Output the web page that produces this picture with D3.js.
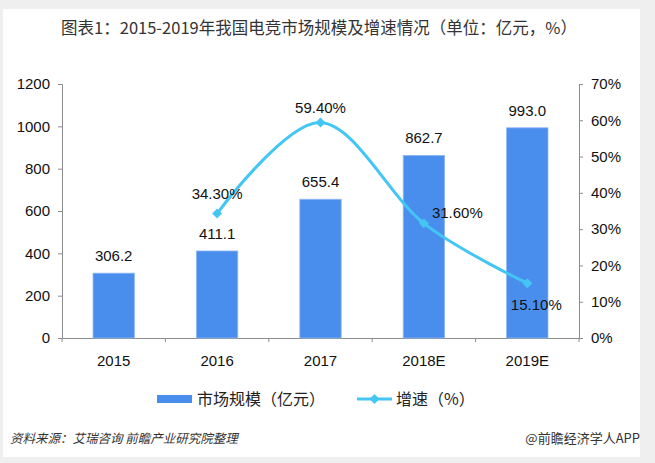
<!DOCTYPE html>
<html>
<head>
<meta charset="utf-8">
<script src="https://cdn.jsdelivr.net/npm/d3@7"></script>
<style>
  body { margin: 0; background: #efefef; }
  svg { display: block; }
</style>
</head>
<body>
<div id="chart"></div>
<script>
// data
const years = ["2015", "2016", "2017", "2018E", "2019E"];
const marketSize = [306.2, 411.1, 655.4, 862.7, 993.0];
const growthYears = ["2016", "2017", "2018E", "2019E"];
const growthRate = [34.3, 59.4, 31.6, 15.1];
const leftTicks = [0, 200, 400, 600, 800, 1000, 1200];
const rightTicks = [0, 10, 20, 30, 40, 50, 60, 70];

const width = 655, height = 463;
const cjk = "'Noto Sans CJK SC', sans-serif";
const num = "'Liberation Sans', Arial, sans-serif";
const barColor = "#4a8eed";
const lineColor = "#44c6f5";

const svg = d3.select("#chart").append("svg")
    .attr("width", width).attr("height", height);

// white panel
svg.append("rect")
    .attr("x", 3).attr("y", 9).attr("width", 637).attr("height", 448)
    .attr("fill", "#fff");

svg.append("text")
    .attr("x", 319).attr("y", 34)
    .attr("text-anchor", "middle")
    .style("font-family", cjk).style("font-size", "16.5px").style("fill", "#333")
    .text("图表1：2015-2019年我国电竞市场规模及增速情况（单位：亿元，%）");

// scales
const x = d3.scaleBand().domain(years).range([62, 579]).padding(0);
const yL = d3.scaleLinear().domain([0, 1200]).range([338, 84]);
const yR = d3.scaleLinear().domain([0, 70]).range([338, 84]);
const bw = x.bandwidth() * 0.4;
const cx = d => x(d) + x.bandwidth() / 2;

// axes
const axisStyle = g => {
    g.select(".domain").attr("stroke", "#8c8c8c");
    g.selectAll(".tick line").attr("stroke", "#8c8c8c");
    g.selectAll(".tick text").style("font-family", num).style("font-size", "15px").attr("fill", "#111");
};

svg.append("g")
    .attr("transform", "translate(62,0)")
    .call(d3.axisLeft(yL).tickValues(leftTicks).tickFormat(d3.format("d")).tickSize(4).tickSizeOuter(4).tickPadding(8))
    .call(axisStyle);

svg.append("g")
    .attr("transform", "translate(579,0)")
    .call(d3.axisRight(yR).tickValues(rightTicks).tickFormat(d => d + "%").tickSize(4).tickSizeOuter(4).tickPadding(8))
    .call(axisStyle);

const xAxis = svg.append("g")
    .attr("transform", "translate(0,338)")
    .call(d3.axisBottom(x).tickSize(0).tickPadding(17))
    .call(axisStyle);
// boundary ticks between categories
xAxis.selectAll(".sep")
    .data(years.concat(["end"]))
    .join("line")
    .attr("class", "sep")
    .attr("x1", (d, i) => 62 + i * x.bandwidth())
    .attr("x2", (d, i) => 62 + i * x.bandwidth())
    .attr("y1", 0).attr("y2", 4)
    .attr("stroke", "#8c8c8c");

// bars
svg.append("g").selectAll("rect")
    .data(years)
    .join("rect")
    .attr("x", d => cx(d) - bw / 2)
    .attr("y", (d, i) => yL(marketSize[i]))
    .attr("width", bw)
    .attr("height", (d, i) => yL(0) - yL(marketSize[i]))
    .attr("fill", barColor)
    .attr("stroke", "#8db6f3").attr("stroke-width", 0.8);

svg.append("g").selectAll("text")
    .data(years)
    .join("text")
    .attr("x", d => cx(d))
    .attr("y", (d, i) => yL(marketSize[i]) - 12)
    .attr("text-anchor", "middle")
    .style("font-family", num).style("font-size", "15px").style("fill", "#111")
    .text((d, i) => marketSize[i].toFixed(1));

// growth line
const pts = growthYears.map((d, i) => [cx(d), yR(growthRate[i])]);
svg.append("path")
    .attr("d", d3.line().curve(d3.curveCatmullRom.alpha(0))(pts))
    .attr("fill", "none")
    .attr("stroke", lineColor).attr("stroke-width", 3);

svg.append("g").selectAll("path")
    .data(pts)
    .join("path")
    .attr("transform", d => `translate(${d[0]},${d[1]}) rotate(45)`)
    .attr("d", "M-3.5,-3.5H3.5V3.5H-3.5Z")
    .attr("fill", lineColor);

// label offsets per point: above, above, right, below
const labelPos = [
    { dx: 0, dy: -15, anchor: "middle" },
    { dx: 0, dy: -9, anchor: "middle" },
    { dx: 8, dy: -5, anchor: "start" },
    { dx: 9, dy: 27, anchor: "middle" }
];
svg.append("g").selectAll("text")
    .data(pts)
    .join("text")
    .attr("x", (d, i) => d[0] + labelPos[i].dx)
    .attr("y", (d, i) => d[1] + labelPos[i].dy)
    .attr("text-anchor", (d, i) => labelPos[i].anchor)
    .style("font-family", num).style("font-size", "15px").style("fill", "#111")
    .text((d, i) => growthRate[i].toFixed(2) + "%");

// legend
const legend = svg.append("g");
legend.append("rect")
    .attr("x", 157).attr("y", 395).attr("width", 35).attr("height", 8)
    .attr("fill", barColor);
legend.append("text")
    .attr("x", 197).attr("y", 405)
    .style("font-family", cjk).style("font-size", "16px").style("fill", "#222")
    .text("市场规模（亿元）");
legend.append("line")
    .attr("x1", 357).attr("x2", 392).attr("y1", 399).attr("y2", 399)
    .attr("stroke", lineColor).attr("stroke-width", 3);
legend.append("path")
    .attr("transform", "translate(374.5,399) rotate(45)")
    .attr("d", "M-3.5,-3.5H3.5V3.5H-3.5Z")
    .attr("fill", lineColor);
legend.append("text")
    .attr("x", 396).attr("y", 405)
    .style("font-family", cjk).style("font-size", "16px").style("fill", "#222")
    .text("增速（%）");

// footer
svg.append("text")
    .attr("x", 10).attr("y", 443)
    .style("font-family", cjk).style("font-size", "12.5px").style("font-style", "italic").style("fill", "#333")
    .text("资料来源：艾瑞咨询 前瞻产业研究院整理");
svg.append("text")
    .attr("x", 640).attr("y", 443)
    .attr("text-anchor", "end")
    .style("font-family", cjk).style("font-size", "13px").style("fill", "#333")
    .text("@前瞻经济学人APP");
</script>
</body>
</html>
